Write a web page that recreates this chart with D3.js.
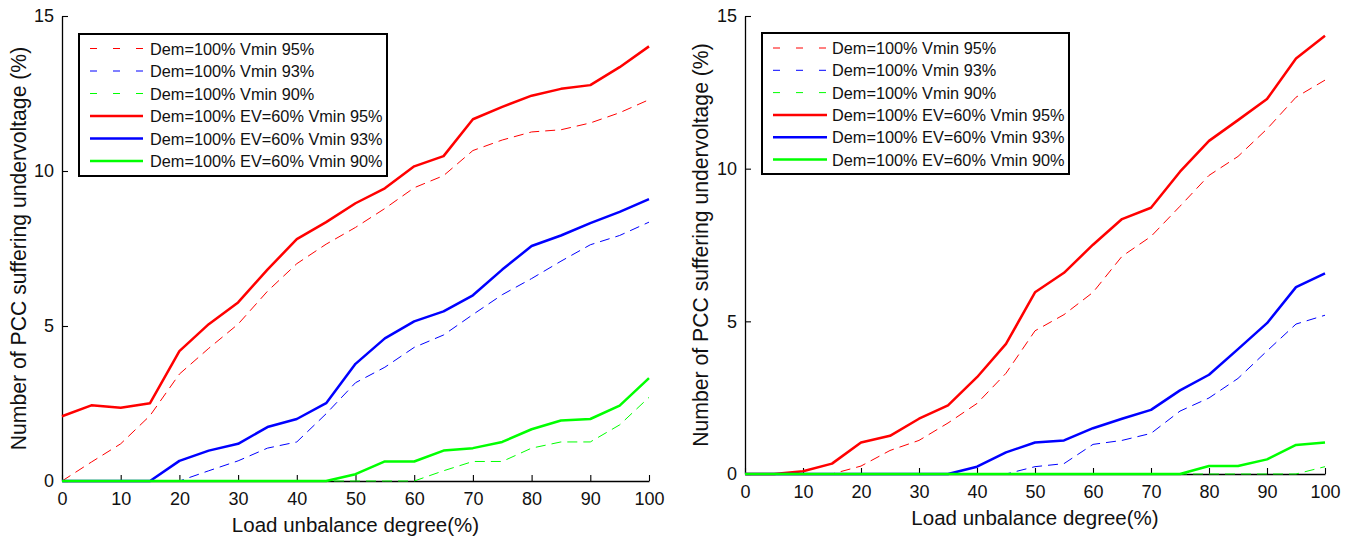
<!DOCTYPE html>
<html>
<head>
<meta charset="utf-8">
<script src="https://cdn.jsdelivr.net/npm/d3@7"></script>
<style>
  html, body { margin: 0; padding: 0; background: #fff; }
  svg { display: block; font-family: "Liberation Sans", Arial, sans-serif; }
</style>
</head>
<body>
<svg id="chart" width="1357" height="540"></svg>
<script>
// ---- data ----
const xValues = [0,5,10,15,20,25,30,35,40,45,50,55,60,65,70,75,80,85,90,95,100];
const xTicks = [0,10,20,30,40,50,60,70,80,90,100];
const yTicks = [0,5,10,15];
const seriesLabels = [
  "Dem=100% Vmin 95%",
  "Dem=100% Vmin 93%",
  "Dem=100% Vmin 90%",
  "Dem=100% EV=60% Vmin 95%",
  "Dem=100% EV=60% Vmin 93%",
  "Dem=100% EV=60% Vmin 90%"
];
const seriesColors = ["#ff0000","#0000ff","#00ff00","#ff0000","#0000ff","#00ff00"];
const seriesDashed = [true,true,true,false,false,false];
const xTitle = "Load unbalance degree(%)";
const yTitle = "Number of PCC suffering undervoltage (%)";

// left panel
const leftVmin95 = [0,0.61,1.20,2.11,3.45,4.28,5.06,6.12,7.01,7.64,8.18,8.79,9.46,9.85,10.66,11.00,11.26,11.33,11.55,11.88,12.30];
const leftVmin93 = [0,0,0,0,0,0.33,0.65,1.06,1.26,2.17,3.17,3.67,4.31,4.71,5.37,6.01,6.53,7.09,7.62,7.92,8.35];
const leftVmin90 = [0,0,0,0,0,0,0,0,0,0,0,0,0,0.33,0.63,0.63,1.06,1.26,1.26,1.81,2.70];
const leftEVVmin95 = [2.09,2.44,2.36,2.51,4.19,5.06,5.76,6.82,7.80,8.35,8.96,9.44,10.15,10.48,11.67,12.07,12.43,12.65,12.77,13.35,14.02];
const leftEVVmin93 = [0,0,0,0,0.65,0.98,1.20,1.74,2.00,2.51,3.78,4.60,5.15,5.47,5.99,6.82,7.58,7.92,8.32,8.68,9.09];
const leftEVVmin90 = [0,0,0,0,0,0,0,0,0,0,0.22,0.63,0.63,0.98,1.06,1.26,1.67,1.95,2.00,2.43,3.32];

// right panel
const rightVmin95 = [0,0,0,0,0.26,0.77,1.10,1.67,2.31,3.30,4.69,5.22,5.95,7.13,7.78,8.77,9.78,10.40,11.30,12.34,12.90];
const rightVmin93 = [0,0,0,0,0,0,0,0,0,0,0.24,0.34,0.97,1.10,1.33,2.06,2.49,3.13,4.03,4.91,5.20];
const rightVmin90 = [0,0,0,0,0,0,0,0,0,0,0,0,0,0,0,0,0,0,0,0,0.24];
const rightEVVmin95 = [0,0,0.09,0.34,1.03,1.25,1.81,2.25,3.17,4.26,5.95,6.59,7.51,8.35,8.72,9.90,10.91,11.59,12.28,13.61,14.35];
const rightEVVmin93 = [0,0,0,0,0,0,0,0,0.24,0.71,1.03,1.10,1.50,1.81,2.10,2.74,3.25,4.09,4.94,6.12,6.57];
const rightEVVmin90 = [0,0,0,0,0,0,0,0,0,0,0,0,0,0,0,0,0.26,0.26,0.48,0.95,1.03];

const panels = [
  { series: [leftVmin95, leftVmin93, leftVmin90, leftEVVmin95, leftEVVmin93, leftEVVmin90],
    x0: 62, x1: 649, yTop: 16, yBottom: 481, yTitleX: 18,
    legend: { x: 79, y: 34, w: 308, h: 142, lineX0: 90, lineX1: 143, textX: 150, rowY0: 48.5, rowDy: 22.5 } },
  { series: [rightVmin95, rightVmin93, rightVmin90, rightEVVmin95, rightEVVmin93, rightEVVmin90],
    x0: 745, x1: 1325, yTop: 16, yBottom: 474, yTitleX: 700,
    legend: { x: 762, y: 33, w: 307, h: 141, lineX0: 773, lineX1: 827, textX: 832, rowY0: 48, rowDy: 22.3 } }
];

const svg = d3.select("#chart");

panels.forEach(p => {
  const x = d3.scaleLinear().domain([0, 100]).range([p.x0, p.x1]);
  const y = d3.scaleLinear().domain([0, 15]).range([p.yBottom, p.yTop]);
  const g = svg.append("g");

  // axes
  const xAxis = d3.axisBottom(x).tickValues(xTicks).tickSizeInner(-6).tickSizeOuter(0).tickPadding(11);
  const gx = g.append("g").attr("transform", `translate(0,${p.yBottom})`).call(xAxis);
  const yAxis = d3.axisLeft(y).tickValues(yTicks).tickSizeInner(-6).tickSizeOuter(0).tickPadding(8);
  const gy = g.append("g").attr("transform", `translate(${p.x0},0)`).call(yAxis);
  [gx, gy].forEach(a => {
    a.select(".domain").attr("stroke", "#000").attr("stroke-width", 1.3);
    a.selectAll(".tick line").attr("stroke", "#000").attr("stroke-width", 1.1);
    a.selectAll(".tick text").attr("fill", "#111").attr("font-size", 18)
      .attr("font-family", "Liberation Sans, Arial, sans-serif");
  });

  // titles
  g.append("text")
    .attr("x", (p.x0 + p.x1) / 2).attr("y", p.yBottom + 51)
    .attr("text-anchor", "middle").attr("font-size", 20.5).attr("fill", "#111")
    .text(xTitle);
  g.append("text")
    .attr("transform", `translate(${p.yTitleX},${(p.yTop + p.yBottom) / 2}) rotate(-90)`)
    .attr("text-anchor", "middle").attr("dominant-baseline", "central")
    .attr("font-size", 21.2).attr("fill", "#111")
    .text(yTitle);

  // lines
  const line = d3.line().x((d, i) => x(xValues[i])).y(d => y(d));
  p.series.forEach((s, k) => {
    g.append("path")
      .datum(s)
      .attr("d", line)
      .attr("fill", "none")
      .attr("stroke", seriesColors[k])
      .attr("stroke-width", seriesDashed[k] ? 1 : 2.5)
      .attr("stroke-dasharray", seriesDashed[k] ? "10,6" : null)
      .attr("stroke-linejoin", "round");
  });

  // legend
  const L = p.legend;
  const lg = g.append("g");
  lg.append("rect")
    .attr("x", L.x).attr("y", L.y).attr("width", L.w).attr("height", L.h)
    .attr("fill", "#fff").attr("stroke", "#000").attr("stroke-width", 2);
  seriesLabels.forEach((lab, k) => {
    const ry = L.rowY0 + k * L.rowDy;
    lg.append("line")
      .attr("x1", L.lineX0).attr("x2", L.lineX1).attr("y1", ry).attr("y2", ry)
      .attr("stroke", seriesColors[k])
      .attr("stroke-width", seriesDashed[k] ? 1 : 2.5)
      .attr("stroke-dasharray", seriesDashed[k] ? "7,16" : null);
    lg.append("text")
      .attr("x", L.textX).attr("y", ry)
      .attr("dominant-baseline", "central")
      .attr("font-size", 16.3).attr("fill", "#111")
      .text(lab);
  });
});
</script>
</body>
</html>
